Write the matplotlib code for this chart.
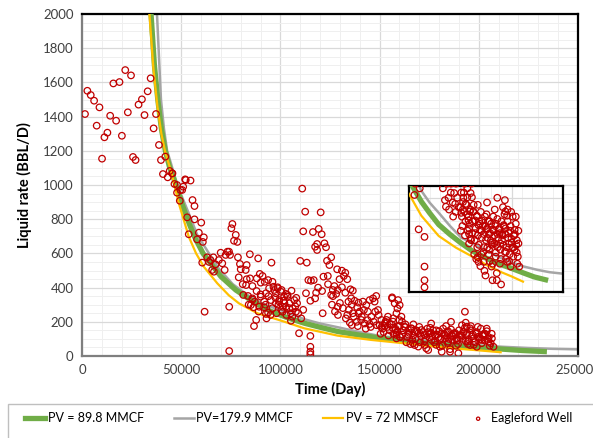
import matplotlib.pyplot as plt
from matplotlib.ticker import MultipleLocator
from matplotlib.patches import Rectangle

plt.rcParams['font.family'] = ['Lato', 'DejaVu Sans']

# decline curves
green_t = [34800, 36500, 38200, 40000, 42000, 44000, 46500, 48500, 51000, 54000, 57000, 61000,
           65000, 70000, 77500, 86000, 95000, 104000, 112000, 120000, 129000, 140000, 150000,
           161000, 175000, 190000, 200000, 212000, 222000, 233000]
green_q = [2000, 1700, 1500, 1330, 1200, 1110, 1030, 960, 870, 775, 690, 600,
           540, 465, 386, 320, 262, 222, 192, 168, 143, 122, 105,
           88, 72, 58, 50, 40, 32, 26]

yellow_t = [34000, 36000, 38000, 40000, 42000, 44900, 48800, 53800, 57500, 61400, 68200, 74000,
            79100, 88400, 101900, 112000, 128900, 145800, 161000, 175000, 190000, 200000, 211000]
yellow_q = [2000, 1680, 1460, 1300, 1190, 1080, 893, 698, 600, 522, 425, 355,
            308, 250, 201, 162, 119, 94, 76, 58, 42, 33, 22]

gray_t = [37800, 38800, 39800, 41300, 42900, 45000, 47000, 49000, 51500, 55000, 58000, 64000,
          69000, 76000, 83000, 90100, 97000, 103600, 112000, 120000, 129000, 140000, 151000,
          161000, 175000, 190000, 200000, 212000, 225000, 237000, 249600]
gray_q = [2000, 1750, 1500, 1330, 1200, 1120, 1040, 970, 900, 800, 710, 600,
          510, 420, 360, 310, 280, 255, 215, 190, 168, 140, 115,
          105, 88, 72, 63, 54, 47, 42, 39]

# Eagleford well observations (day, bbl/d)
well_t = [1500, 2700, 4400, 6100, 7400, 8800, 10100, 11300, 12800, 14200, 15800, 17200, 18900, 20100,
          21800, 23100, 24700, 25700, 27000, 28500, 30200, 31500, 33100, 34600, 36100, 37300, 38800,
          39800, 40800, 42000, 43200, 44200, 45400, 45600, 46600, 47900, 47900, 49300, 49600, 50500,
          51000, 52000, 52300, 53000, 53800, 54700, 55700, 56700, 56700, 58000, 58900, 60100, 60600,
          60900, 61400, 61800, 63100, 64000, 64800, 65600, 66200, 66500, 67300, 69000, 69900, 70700,
          71900, 72400, 73300, 74100, 74200, 74200, 74600, 75300, 75800, 76600, 77500, 78300, 78600,
          79600, 80000, 81300, 82500, 82700, 83000, 83000, 83700, 84600, 84700, 85100, 85900, 85900,
          86400, 86700, 87100, 87800, 88100, 88800, 89300, 89600, 90100, 90100, 91000, 91800, 91800,
          92100, 92700, 92700, 93800, 93800, 94300, 95200, 95500, 96000, 96500, 96900, 97700, 97700,
          98600, 98600, 99400, 99400, 100200, 100600, 101100, 101100, 101600, 101900, 102800, 102800,
          103600, 103600, 104500, 105300, 105300, 105600, 106200, 107000, 107800, 108400, 109400,
          110000, 111000, 111500, 112500, 112900, 113300, 114100, 115100, 115100, 115100, 115100,
          115100, 115400, 116400, 116800, 117500, 117500, 118500, 118500, 119300, 120300, 120800,
          121300, 121700, 122200, 123000, 123500, 123900, 124700, 125600, 125600, 126400, 127200,
          128100, 128600, 128900, 128900, 129800, 131000, 131000, 132000, 132700, 132700, 133700,
          133700, 134300, 135300, 135700, 136000, 136500, 136500, 137400, 138700, 139400, 139400,
          140700, 141600, 142100, 143300, 144100, 145000, 145000, 145800, 146700, 147500, 147800,
          148300, 149200, 150900, 150900, 152600, 153400, 154200, 155100, 156300, 156300, 156800,
          156800, 157600, 158000, 158500, 158500, 158500, 159000, 159300, 159300, 160100, 160100,
          161000, 161300, 162700, 164400, 166100, 166900, 167700, 167700, 169400, 171100, 172800,
          172800, 174500, 175300, 176200, 177900, 179600, 180400, 181300, 181300, 183000, 184600,
          185500, 186300, 187200, 188900, 189700, 190500, 192200, 193000, 193400, 193900, 193900,
          195600, 195600, 197300, 199000, 199800, 201500, 202900, 203200, 204900, 206600, 207400,
          150000, 151500, 152000, 153000, 154000, 155000, 156000, 157000, 158000, 159000, 160000,
          161500, 162000, 163000, 164000, 165000, 166000, 167000, 168000, 169000, 170000, 171000,
          172000, 173000, 174000, 175000, 176000, 177000, 178000, 179000, 180000, 181000, 182000,
          183000, 184000, 185000, 186000, 187000, 188000, 189000, 190000, 191000, 192000, 193000,
          194000, 195000, 196000, 197000, 198000, 199000, 200000, 201000, 202000, 203000, 204000,
          205000, 206000, 170500, 184500, 194500, 163500, 178500, 188500,
          126000, 127500, 129000, 130000, 131500, 133000, 134500, 136000, 137000, 138500, 140000,
          141000, 142500, 144000, 145500, 147000, 148500, 149500, 143000, 139000, 135000,
          119000, 121000, 124000, 126500, 118000,
          88000, 90000, 92500, 94000, 96000, 97500, 99000, 100500, 102000, 103000, 104500, 106000,
          107500, 109000, 110500, 111500, 108000, 98000, 95000, 93000, 89000, 86000, 84000, 81000,
          79000,
          150500, 152500, 154500, 156500, 158500, 160500, 162500, 164500, 166500, 168500, 170500,
          172500, 174500, 176500, 178500, 180500, 182500, 184500, 186500, 188500, 190500, 192500,
          194500, 196500, 198500, 200500, 202500, 204500, 206500, 165500, 169500, 173500, 177500,
          181500, 185500, 189500, 193500, 197500, 201500, 205500, 167000, 175500, 183500, 191500,
          199500, 160000, 176000, 186000, 196000, 204000]
well_q = [1415, 1551, 1526, 1493, 1347, 1454, 1154, 1279, 1306, 1405, 1594, 1376, 1602, 1288,
          1672, 1425, 1641, 1164, 1146, 1470, 1501, 1409, 1548, 1624, 1331, 1415, 1234,
          1146, 1064, 1166, 1045, 1082, 1068, 1068, 1006, 1000, 955, 908, 971, 971,
          990, 1033, 1029, 811, 712, 1026, 912, 877, 799, 682, 721, 780, 546,
          667, 694, 259, 577, 550, 561, 503, 577, 493, 536, 561, 604, 542,
          503, 591, 610, 610, 288, 29, 591, 747, 772, 674, 708, 667, 577,
          538, 507, 357, 503, 415, 532, 449, 351, 595, 454, 298, 409, 337,
          285, 175, 318, 211, 454, 571, 288, 480, 347, 429, 468, 285, 318,
          434, 367, 246, 444, 253, 396, 327, 546, 434, 405, 386, 308, 367,
          396, 402, 318, 327, 376, 386, 288, 259, 323, 347, 363, 288,
          347, 357, 308, 250, 206, 382, 278, 327, 259, 308, 133,
          556, 979, 729, 844, 367, 546, 444, 117, 54, 25, 10,
          323, 440, 725, 444, 639, 337, 655, 620, 743, 840, 712,
          250, 464, 659, 636, 557, 468, 532, 577, 357, 386, 409,
          363, 507, 386, 288, 449, 499, 402, 468, 487, 370, 449,
          240, 318, 390, 337, 181, 382, 250, 323, 285, 312, 250,
          211, 318, 269, 298, 259, 327, 187, 230, 337, 318, 259,
          351, 269, 211, 168, 191, 211, 230, 187, 337, 343, 201,
          220, 308, 152, 250, 103, 123, 278, 327, 171, 298, 113,
          230, 201, 171, 152, 162, 74, 142, 64, 132, 152, 123,
          64, 35, 132, 94, 123, 109, 54, 132, 25, 103, 84,
          25, 123, 132, 103, 16, 123, 142, 259, 195, 171, 123,
          162, 64, 103, 54, 113, 94, 132, 123, 84, 103, 54,
          180, 160, 140, 200, 170, 150, 185, 130, 160, 145, 175,
          125, 150, 185, 110, 135, 160, 120, 100, 145, 170, 115,
          140, 95, 160, 110, 135, 150, 90, 125, 145, 105, 160,
          120, 140, 100, 155, 115, 135, 90, 150, 120, 100, 165,
          135, 95, 150, 125, 80, 140, 105, 160, 120, 90, 145,
          110, 75, 80, 75, 70, 80, 65, 60,
          300, 260, 240, 310, 280, 220, 270, 300, 230, 200, 260,
          230, 190, 210, 170, 200, 180, 240, 160, 175, 195,
          400, 380, 420, 350, 370,
          380, 360, 300, 350, 280, 340, 300, 270, 310, 240, 280, 230,
          290, 250, 220, 270, 340, 250, 240, 220, 260, 330, 300, 420,
          460,
          130, 175, 120, 165, 135, 110, 170, 125, 95, 150, 130,
          85, 140, 115, 150, 100, 130, 145, 95, 125, 110, 140,
          85, 115, 130, 95, 120, 100, 130, 70, 55, 45, 80,
          60, 40, 70, 85, 65, 75, 60, 185, 165, 175, 180,
          170, 210, 190, 200, 175, 160]

x_ticks = [0, 50000, 100000, 150000, 200000, 250000]
y_ticks = [0, 200, 400, 600, 800, 1000, 1200, 1400, 1600, 1800, 2000]

red = '#C00000'


def draw_series(ax, size):
    ax.plot(gray_t, gray_q, color='#A5A5A5', lw=1.8, zorder=2, label='PV=179.9 MMCF')
    ax.plot(green_t, green_q, color='#70AD47', lw=3.8, zorder=3, label='PV = 89.8 MMCF')
    ax.plot(yellow_t, yellow_q, color='#FFC000', lw=1.6, zorder=4, label='PV = 72 MMSCF')
    ax.scatter(well_t, well_q, s=size, facecolors='none', edgecolors=red, linewidths=0.9,
               zorder=5, label='Eagleford Well')


fig = plt.figure(figsize=(5.93, 4.38), dpi=100)
ax = fig.add_axes([82 / 593, 82 / 438, 496 / 593, 342 / 438])
draw_series(ax, 22)
ax.set_xlim(0, 250000)
ax.set_ylim(0, 2000)
ax.set_xticks(x_ticks)
ax.set_yticks(y_ticks)
ax.xaxis.set_minor_locator(MultipleLocator(10000))
ax.yaxis.set_minor_locator(MultipleLocator(50))
ax.grid(True, which='major', color='#d9d9d9', lw=0.9, zorder=0)
ax.grid(True, which='minor', color='#efefef', lw=0.7, zorder=0)
ax.set_axisbelow(True)
ax.tick_params(which='both', length=0, labelsize=9.5, labelcolor='#404040', pad=6)
for side in ['top', 'right']:
    ax.spines[side].set_color('black')
    ax.spines[side].set_linewidth(1.6)
for side in ['left', 'bottom']:
    ax.spines[side].set_color('#7f7f7f')
    ax.spines[side].set_linewidth(1.6)
ax.set_xlabel('Time (Day)', fontsize=10.5, fontweight='bold', labelpad=4)
ax.set_ylabel('Liquid rate (BBL/D)', fontsize=10.5, fontweight='bold', labelpad=8)

# zoomed inset of the tail
ins = fig.add_axes([409 / 593, 146 / 438, 154 / 593, 106 / 438])
draw_series(ins, 22)
ins.set_xlim(100000, 250000)
ins.set_ylim(0, 225)
ins.xaxis.set_major_locator(MultipleLocator(50000))
ins.xaxis.set_minor_locator(MultipleLocator(10000))
ins.yaxis.set_major_locator(MultipleLocator(100))
ins.yaxis.set_minor_locator(MultipleLocator(25))
ins.grid(True, which='major', color='#d9d9d9', lw=0.9)
ins.grid(True, which='minor', color='#efefef', lw=0.7)
ins.set_axisbelow(True)
ins.tick_params(which='both', length=0, labelbottom=False, labelleft=False)
for sp in ins.spines.values():
    sp.set_color('black')
    sp.set_linewidth(1.6)

# legend strip at the bottom
fig.patches.append(Rectangle((8 / 593, -0.05), 1.0, 0.05 + 34 / 438, transform=fig.transFigure,
                             fill=False, edgecolor='#bfbfbf', lw=1.0))
handles, labels = ax.get_legend_handles_labels()
order = [1, 0, 2, 3]
fig.legend([handles[i] for i in order], [labels[i] for i in order], loc='center left',
           bbox_to_anchor=(25 / 593, 20 / 438), ncol=4, frameon=False, fontsize=9,
           handlelength=1.6, handletextpad=0.2, columnspacing=2.4, borderpad=0,
           borderaxespad=0, markerscale=0.5)

fig.savefig('out.png', dpi=100)
